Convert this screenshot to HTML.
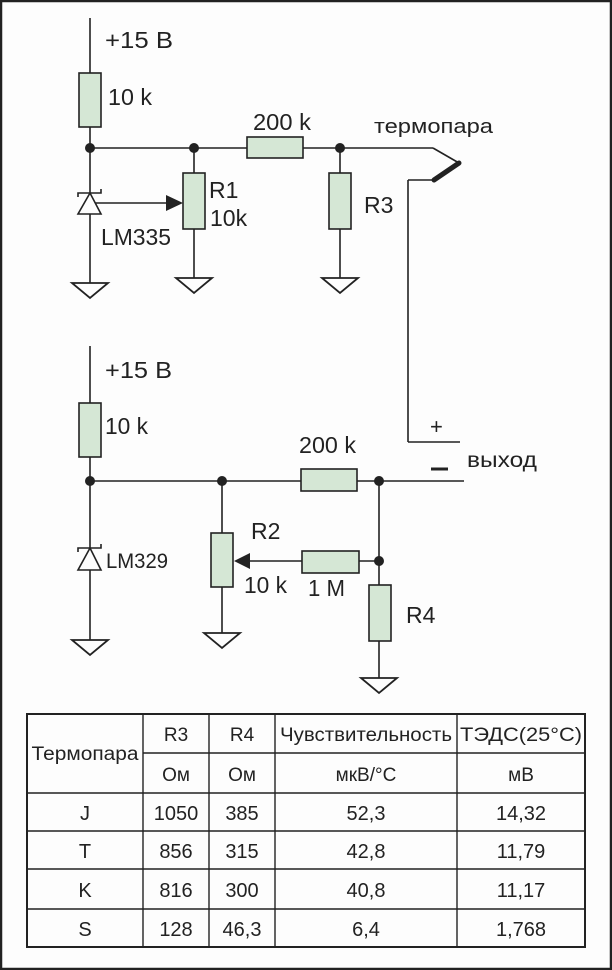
<!DOCTYPE html>
<html><head><meta charset="utf-8"><style>
html,body{margin:0;padding:0;background:#fff}
svg{display:block}
text{font-family:"Liberation Sans Narrow","Liberation Sans","DejaVu Sans",sans-serif;fill:#222}
</style></head><body>
<svg width="612" height="970" viewBox="0 0 612 970" xmlns="http://www.w3.org/2000/svg">
<rect x="1" y="1" width="610" height="968" fill="#fdfdfd" stroke="#222" stroke-width="2.5"/>
<g stroke="#222" stroke-width="1.6" fill="none">
<line x1="90" y1="18" x2="90" y2="283"/>
<line x1="90" y1="148" x2="433" y2="148"/>
<line x1="433" y1="148" x2="459" y2="163"/>
<line x1="194" y1="148" x2="194" y2="278"/>
<line x1="340" y1="148" x2="340" y2="278"/>
<line x1="408" y1="180" x2="434" y2="180"/>
<line x1="408" y1="180" x2="408" y2="442"/>
<line x1="408" y1="442" x2="460" y2="442"/>
<line x1="90" y1="203" x2="170" y2="203"/>
<line x1="90" y1="346" x2="90" y2="640"/>
<line x1="90" y1="481" x2="464" y2="481"/>
<line x1="222" y1="481" x2="222" y2="633"/>
<line x1="379" y1="481" x2="379" y2="678"/>
<line x1="248" y1="561" x2="379" y2="561"/>
</g>
<line x1="434" y1="180" x2="459" y2="163" stroke="#222" stroke-width="5" stroke-linecap="round"/>
<g fill="#d5e7d5" stroke="#222" stroke-width="1.6">
<rect x="79" y="73" width="22" height="54"/>
<rect x="247" y="137" width="56" height="21"/>
<rect x="183" y="173" width="22" height="56"/>
<rect x="329" y="173" width="22" height="56"/>
<rect x="79" y="403" width="22" height="54"/>
<rect x="301" y="469" width="56" height="22"/>
<rect x="211" y="533" width="22" height="54"/>
<rect x="302" y="551" width="57" height="22"/>
<rect x="369" y="585" width="22" height="56"/>
</g>
<g fill="#222">
<circle cx="90" cy="148" r="5"/><circle cx="194" cy="148" r="5"/><circle cx="340" cy="148" r="5"/>
<circle cx="90" cy="481" r="5"/><circle cx="222" cy="481" r="5"/><circle cx="379" cy="481" r="5"/><circle cx="379" cy="561" r="5"/>
<polygon points="166,195 183,203 166,211"/>
<polygon points="234,561 250,553 250,569"/>
</g>
<g stroke="#222" stroke-width="1.6" fill="#fdfdfd">
<polygon points="90,193 78,214 101,214"/>
<polyline points="78,197 78,193 101,193 101,189" fill="none"/>
<polygon points="90,548 78,570 101,570"/>
<polyline points="78,552 78,548 101,548 101,544" fill="none"/>
</g>
<g stroke="#222" stroke-width="1.8" fill="none">
<polygon points="72,283 108,283 90,298"/>
<polygon points="176,278 212,278 194,293"/>
<polygon points="322,278 358,278 340,293"/>
<polygon points="72,640 108,640 90,655"/>
<polygon points="204,633 240,633 222,648"/>
<polygon points="361,678 397,678 379,693"/>
</g>
<line x1="431" y1="469" x2="448" y2="469" stroke="#222" stroke-width="3"/>
<g font-size="23">
<text x="105" y="48" textLength="68" lengthAdjust="spacingAndGlyphs">+15 В</text>
<text x="108" y="105" textLength="44" lengthAdjust="spacingAndGlyphs">10 k</text>
<text x="253" y="130" textLength="58" lengthAdjust="spacingAndGlyphs">200 k</text>
<text x="209" y="198">R1</text>
<text x="210" y="226">10k</text>
<text x="364" y="213">R3</text>
<text x="101" y="245" textLength="70" lengthAdjust="spacingAndGlyphs">LM335</text>
<text x="105" y="378" textLength="67" lengthAdjust="spacingAndGlyphs">+15 В</text>
<text x="105" y="434" textLength="43" lengthAdjust="spacingAndGlyphs">10 k</text>
<text x="299" y="453" textLength="57" lengthAdjust="spacingAndGlyphs">200 k</text>
<text x="251" y="539">R2</text>
<text x="244" y="593" textLength="43" lengthAdjust="spacingAndGlyphs">10 k</text>
<text x="308" y="596" textLength="37" lengthAdjust="spacingAndGlyphs">1 M</text>
<text x="406" y="623">R4</text>
<text x="106" y="568" font-size="21" textLength="62" lengthAdjust="spacingAndGlyphs">LM329</text>
<text x="430" y="434" font-size="22">+</text>
</g>
<text x="374" y="133" font-size="20" textLength="119" lengthAdjust="spacingAndGlyphs">термопара</text>
<text x="467" y="467" font-size="21" textLength="70" lengthAdjust="spacingAndGlyphs">выход</text>
<g stroke="#222" stroke-width="1.4" fill="none">
<rect x="27" y="714" width="558" height="233" stroke-width="2"/>
<line x1="143" y1="714" x2="143" y2="947"/>
<line x1="209" y1="714" x2="209" y2="947"/>
<line x1="275" y1="714" x2="275" y2="947"/>
<line x1="457" y1="714" x2="457" y2="947"/>
<line x1="143" y1="753" x2="585" y2="753"/>
<line x1="27" y1="793" x2="585" y2="793"/>
<line x1="27" y1="831" x2="585" y2="831"/>
<line x1="27" y1="869" x2="585" y2="869"/>
<line x1="27" y1="909" x2="585" y2="909"/>
</g>
<g font-size="19" text-anchor="middle">
<text x="85" y="760" textLength="107" lengthAdjust="spacingAndGlyphs">Термопара</text>
<text x="176" y="741">R3</text>
<text x="242" y="741">R4</text>
<text x="366" y="741" textLength="172" lengthAdjust="spacingAndGlyphs">Чувствительность</text>
<text x="521" y="741" textLength="122" lengthAdjust="spacingAndGlyphs">ТЭДС(25°С)</text>
<text x="176" y="781">Ом</text>
<text x="242" y="781">Ом</text>
<text x="366" y="781">мкВ/°С</text>
<text x="521" y="781">мВ</text>
</g>
<g font-size="20" text-anchor="middle">
<text x="85" y="820">J</text><text x="176" y="820">1050</text><text x="242" y="820">385</text><text x="366" y="820">52,3</text><text x="521" y="820">14,32</text>
<text x="85" y="858">T</text><text x="176" y="858">856</text><text x="242" y="858">315</text><text x="366" y="858">42,8</text><text x="521" y="858">11,79</text>
<text x="85" y="897">K</text><text x="176" y="897">816</text><text x="242" y="897">300</text><text x="366" y="897">40,8</text><text x="521" y="897">11,17</text>
<text x="85" y="936">S</text><text x="176" y="936">128</text><text x="242" y="936">46,3</text><text x="366" y="936">6,4</text><text x="521" y="936">1,768</text>
</g>
</svg>
</body></html>
